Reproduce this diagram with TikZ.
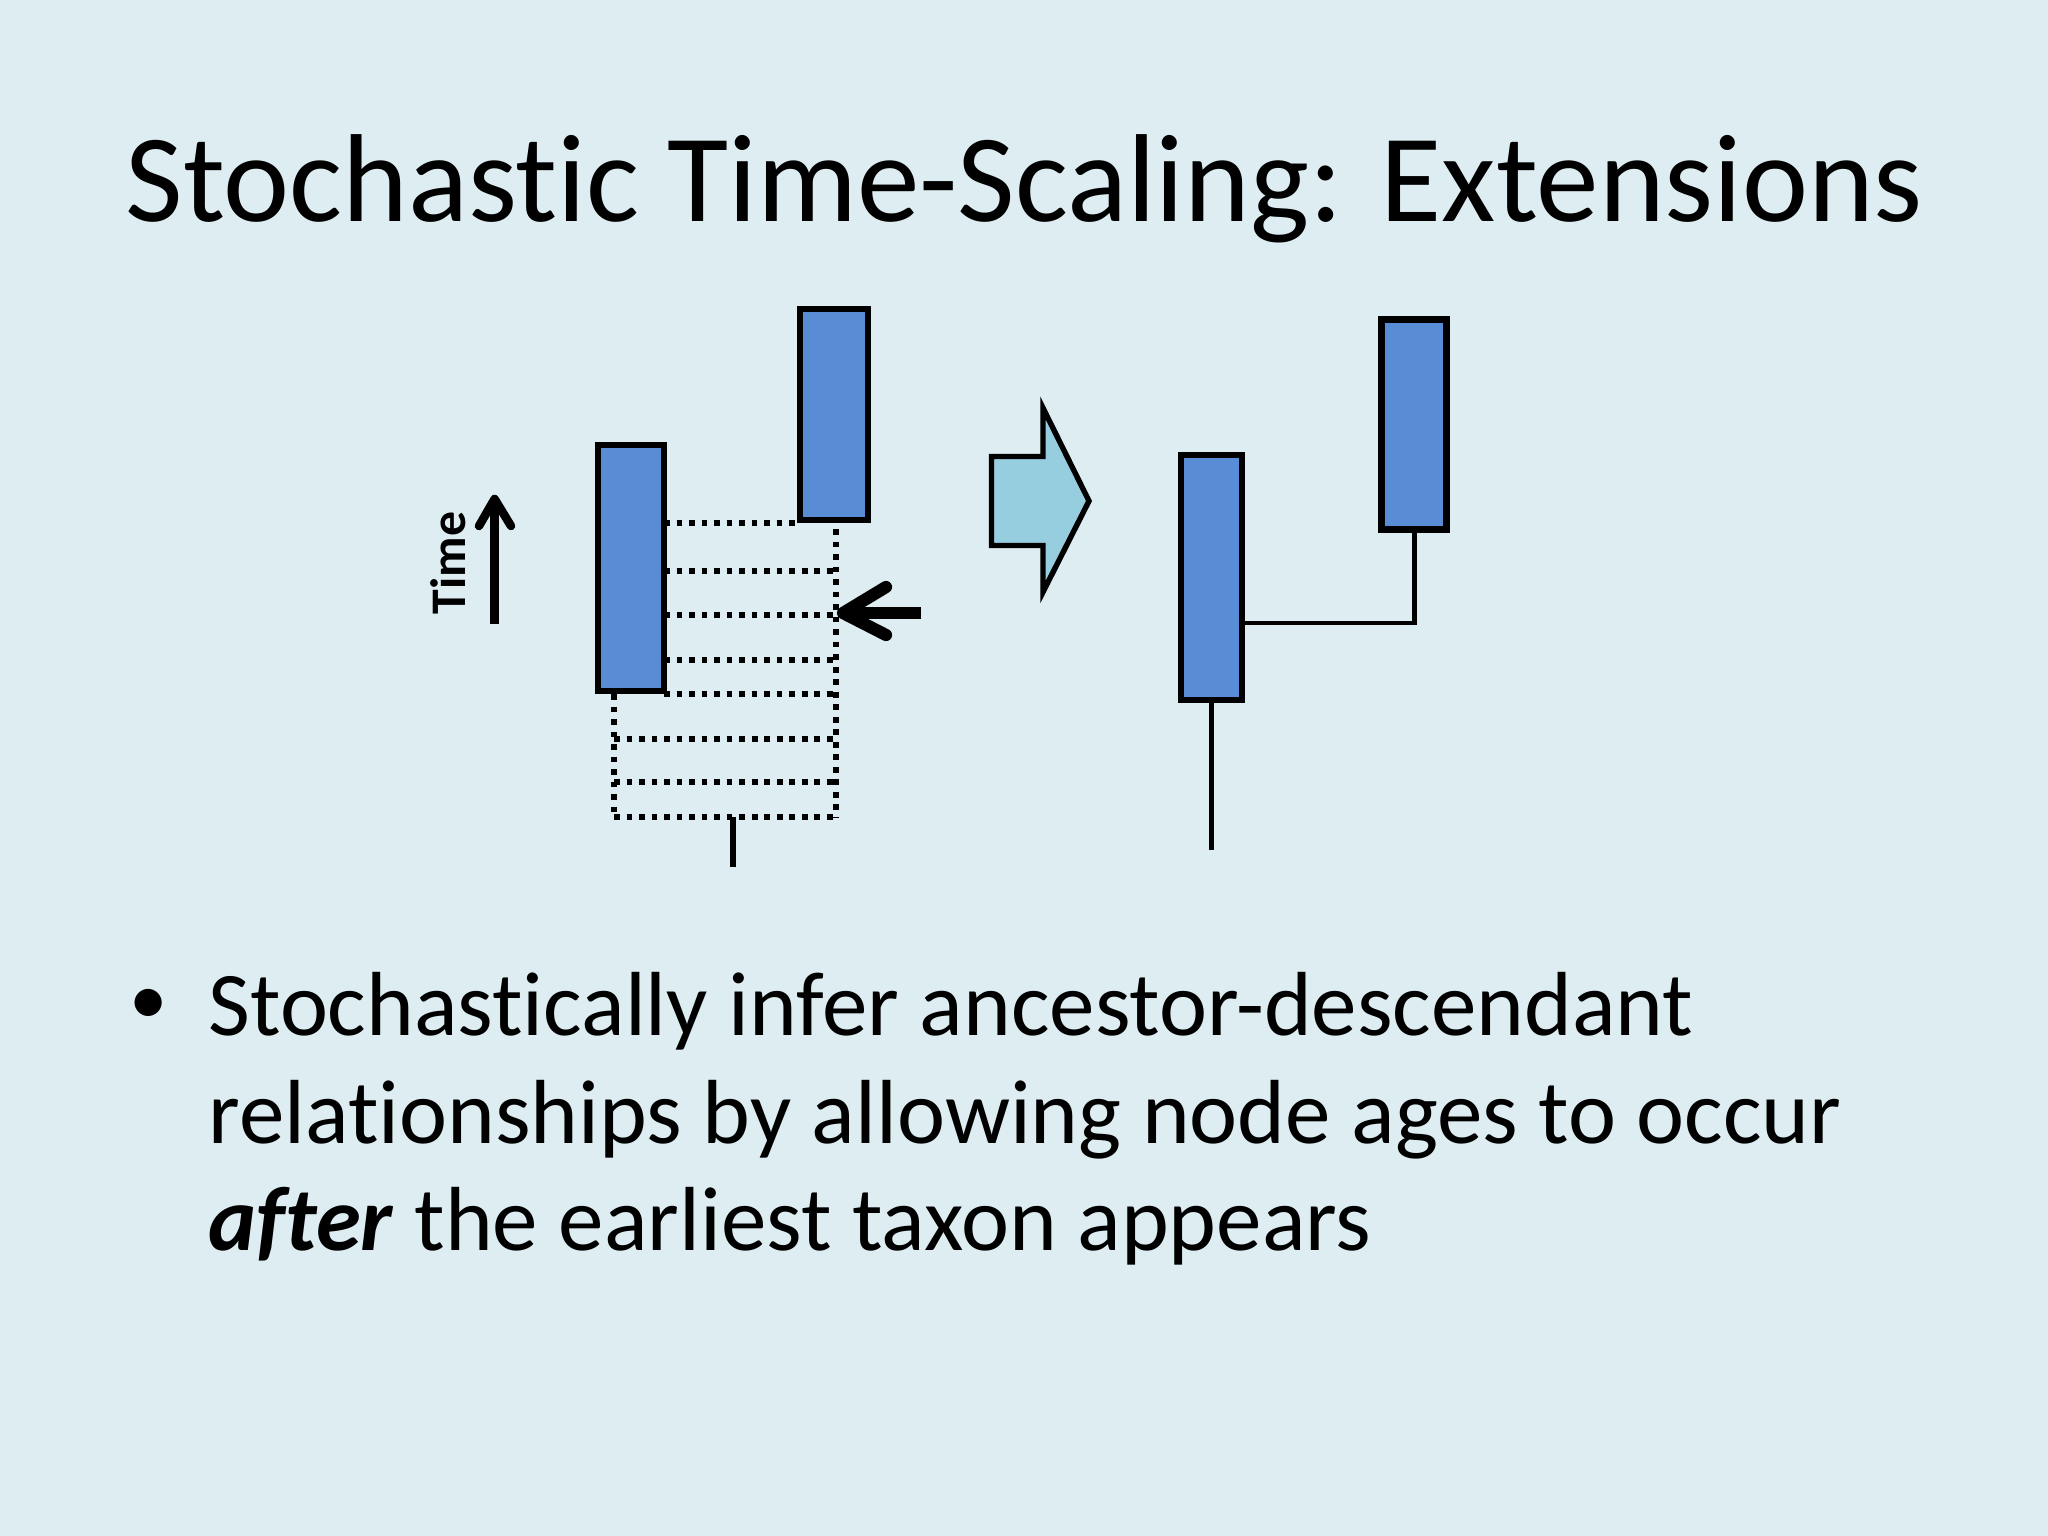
\documentclass[tikz,border=0pt]{standalone}
\usepackage{fontspec}
\setmainfont{Carlito}[Ligatures=NoCommon]
\definecolor{bg}{RGB}{221,237,242}
\definecolor{boxblue}{RGB}{88,140,212}
\definecolor{arrowblue}{RGB}{150,205,223}
\begin{document}
\begin{tikzpicture}[x=0.3515625pt,y=-0.3515625pt,
  taxon/.style={draw=black, fill=boxblue, line width=2.3pt, inner sep=0pt, outer sep=0pt, rectangle},
  dotline/.style={line width=2.05pt, dash pattern=on 2.05pt off 2.35pt},
  thinline/.style={line width=1.75pt},
  title/.style={anchor=base west, inner sep=0pt, font=\fontsize{44}{52}\selectfont},
  bodytext/.style={anchor=base west, inner sep=0pt, font=\fontsize{32}{38}\selectfont}]
\fill[bg] (0,0) rectangle (2048,1536);
\useasboundingbox (0,0) rectangle (2048,1536);

% title
\node[title] (ttl) at (125,222) {Stochastic Time-Scaling: Extensions};

% dotted guide lines (left diagram)
\draw[dotline] (664,523) -- (800,523);
\foreach \yy in {571,615,660,694} \draw[dotline] (664,\yy) -- (836,\yy);
\foreach \yy in {739,782,817} \draw[dotline] (614,\yy) -- (836,\yy);
\draw[dotline] (836,529) -- (836,817);
\draw[dotline] (614,694) -- (614,817);
\coordinate (stemtop) at (733,817);
\coordinate (stembot) at (733,867);
\draw[line width=2.3pt] (stemtop) -- (stembot);

% taxa, left diagram
\node[taxon, minimum width=23.2pt, minimum height=86.5pt] (A) at (631,568) {};
\node[taxon, minimum width=23.9pt, minimum height=74.2pt] (B) at (834,414.5) {};

% time arrow and label
\coordinate (tA) at (494.6,624);
\coordinate (tB) at (494.6,501);
\draw[line width=3pt] (tA) -- (tB);
\draw[line width=3pt, line cap=round, line join=round] (479,526) -- (494.6,499) -- (511,526);
\node[rotate=90, inner sep=0pt, font=\fontsize{17.5}{20}\selectfont\bfseries] (time) at (448,563) {Time};

% black arrow pointing at node age
\coordinate (bA) at (921,613);
\coordinate (bB) at (846,613);
\draw[line width=4.3pt] (bA) -- (bB);
\draw[line width=4.3pt, line cap=round, line join=round] (886,587) -- (843,613) -- (886,635);

% block arrow
\draw[fill=arrowblue, line width=1.9pt, line join=miter]
  (991.5,456.5) -- (1043,456.5) -- (1043,408) -- (1089,501) -- (1043,592) -- (1043,545.5) -- (991.5,545.5) -- cycle;

% right diagram
\node[taxon, minimum width=21.4pt, minimum height=86.1pt] (C) at (1211.5,577.5) {};
\node[taxon, minimum width=22.9pt, minimum height=73.9pt] (D) at (1414,424.6) {};
\coordinate (Cend) at (1211.5,850);
\draw[thinline] (C.east |- 0,623) -- (D.south |- 0,623) -- (D.south);
\draw[thinline] (C.south) -- (Cend);

% bullet text
\node[inner sep=0pt, font=\fontsize{27}{30}\selectfont] (bul) at (149,1007) {•};
\node[bodytext] (l1) at (208,1035) {Stochastically infer ancestor-descendant};
\node[bodytext] (l2) at (208,1143) {relationships by allowing node ages to occur};
\node[bodytext] (l3) at (208,1250) {\textbf{\textit{after}} the earliest taxon appears};
\end{tikzpicture}
\end{document}
